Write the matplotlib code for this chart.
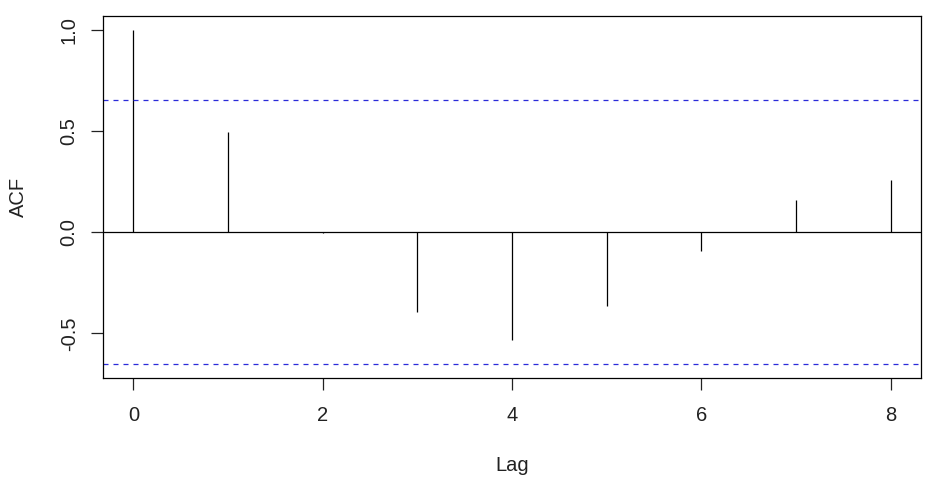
import matplotlib
matplotlib.use("Agg")
import matplotlib.pyplot as plt

lags = [0, 1, 2, 3, 4, 5, 6, 7, 8]
acf_vals = [1.0, 0.497, -0.005, -0.395, -0.531, -0.364, -0.091, 0.16, 0.26]
conf_limit = 0.653

plt.rcParams['font.family'] = ['Liberation Sans', 'DejaVu Sans']

fig = plt.figure(figsize=(9.34, 4.86), dpi=100)
ax = fig.add_axes([0.1103, 0.2222, 0.8757, 0.7448])

ax.vlines(lags, 0, acf_vals, color='black', linewidth=0.9)
ax.axhline(0, color='black', linewidth=0.9)
ax.axhline(conf_limit, color='#2b2bd9', linewidth=0.9, linestyle=(0, (4, 4)))
ax.axhline(-conf_limit, color='#2b2bd9', linewidth=0.9, linestyle=(0, (4, 4)))

ax.set_xlim(-0.32, 8.32)
ax.set_ylim(-0.72, 1.068)
ax.set_xticks([0, 2, 4, 6, 8])
ax.set_yticks([-0.5, 0.0, 0.5, 1.0])
ax.set_yticklabels(['-0.5', '0.0', '0.5', '1.0'], rotation=90, va='center')
ax.tick_params(direction='out', length=8.5, width=0.9, labelsize=14.5, colors='#222222')
ax.tick_params(axis='x', pad=12)
ax.tick_params(axis='y', pad=9)

for s in ax.spines.values():
    s.set_linewidth(0.9)

ax.set_xlabel('Lag', fontsize=14.5, labelpad=22, color='#222222')
ax.set_ylabel('ACF', fontsize=14.5, labelpad=23, color='#222222')

fig.savefig('out.png', dpi=100)
